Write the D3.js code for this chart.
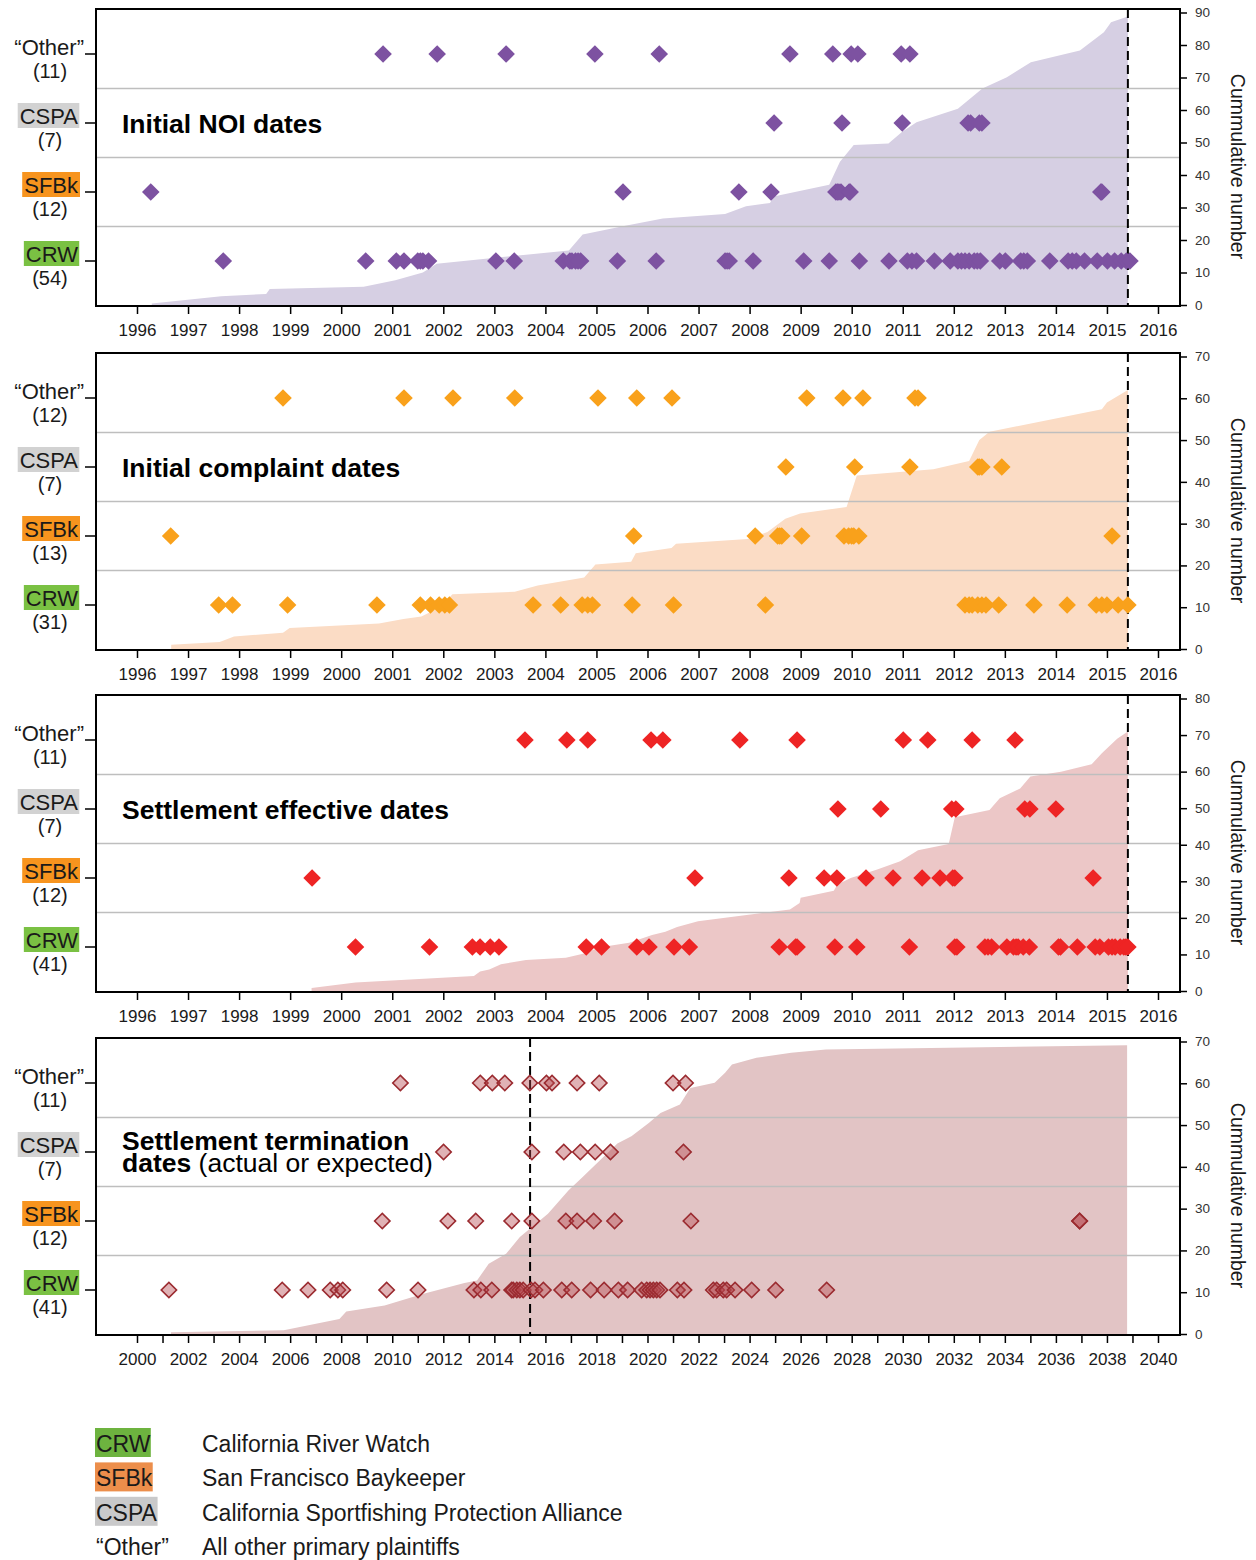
<!DOCTYPE html>
<html>
<head>
<meta charset="utf-8">
<script src="https://cdn.jsdelivr.net/npm/d3@7"></script>
<style>
  body { margin: 0; background: #fff; }
  svg { font-family: "Liberation Sans", Arial, sans-serif; }
</style>
</head>
<body>
<svg id="chart"></svg>
<script>
const width = 1256;
const height = 1560;
const plotLeft = 96;
const plotRight = 1180;
const panelTops = [9, 353, 695, 1038];
const panelH = 297;

// categories, top row first
const groups = ['Other', 'CSPA', 'SFBk', 'CRW'];
const groupLabels = ['\u201cOther\u201d', 'CSPA', 'SFBk', 'CRW'];
const groupBoxes = [null, '#D2D2D2', '#F7941E', '#7AC143'];

// tick labels
const yearsA = [1996, 1997, 1998, 1999, 2000, 2001, 2002, 2003, 2004, 2005, 2006,
                2007, 2008, 2009, 2010, 2011, 2012, 2013, 2014, 2015, 2016];
const yearsB = d3.range(2000, 2041);

// Initial NOI dates (decimal years)
const noiOther = [2000.82, 2001.88, 2003.23, 2004.97, 2006.23, 2008.79, 2009.63, 2009.99, 2010.12, 2010.97, 2011.14];
const noiCSPA = [2008.48, 2009.81, 2010.99, 2012.28, 2012.33, 2012.50, 2012.55];
const noiSFBk = [1996.27, 2005.52, 2007.79, 2008.42, 2009.69, 2009.72, 2009.75, 2009.79, 2009.95, 2009.97, 2014.88, 2014.90];
const noiCRW = [1997.69, 2000.48, 2001.08, 2001.23, 2001.50, 2001.55, 2001.60, 2001.71, 2003.03, 2003.39,
                2004.35, 2004.48, 2004.52, 2004.59, 2004.64, 2004.69, 2005.41, 2006.17, 2007.52, 2007.56,
                2007.60, 2008.07, 2009.06, 2009.56, 2010.15, 2010.73, 2011.09, 2011.18, 2011.27, 2011.62,
                2011.93, 2012.08, 2012.15, 2012.22, 2012.30, 2012.40, 2012.46, 2012.52, 2012.90, 2013.01,
                2013.31, 2013.37, 2013.44, 2013.88, 2014.24, 2014.32, 2014.40, 2014.56, 2014.81, 2015.01,
                2015.15, 2015.28, 2015.38, 2015.45];
const noiTotal = [[1996.29, 0.5], [1997.65, 2.7], [1998.53, 3.4], [1998.6, 4.9], [2000.44, 5.6], [2001.06, 7.6],
                  [2001.6, 10], [2001.87, 12.7], [2004.46, 16.8], [2004.73, 21.7], [2005.54, 24.3], [2006.3, 26.6],
                  [2007.52, 28], [2007.93, 30.4], [2008.4, 31.4], [2008.47, 33.4], [2009.56, 37], [2009.77, 44.1],
                  [2010.04, 49.2], [2010.72, 49.7], [2010.99, 53.3], [2011.27, 56.2], [2012.08, 60.4], [2012.56, 66.6],
                  [2013.04, 70.1], [2013.51, 74.7], [2014.47, 78.3], [2014.94, 83.9], [2015.08, 87], [2015.41, 88.8]];

// Initial complaint dates
const complaintOther = [1998.86, 2001.23, 2002.19, 2003.40, 2005.03, 2005.79, 2006.48, 2009.12, 2009.83, 2010.22, 2011.24, 2011.30];
const complaintCSPA = [2008.71, 2010.06, 2011.14, 2012.47, 2012.50, 2012.55, 2012.94];
const complaintSFBk = [1996.66, 2005.73, 2008.11, 2008.55, 2008.59, 2008.63, 2009.02, 2009.85, 2009.94, 2010.00, 2010.04, 2010.14, 2015.10];
const complaintCRW = [1997.60, 1997.87, 1998.95, 2000.70, 2001.55, 2001.75, 2001.92, 2002.03, 2002.12, 2003.76,
                      2004.30, 2004.72, 2004.83, 2004.92, 2005.70, 2006.51, 2008.31, 2012.22, 2012.30, 2012.36,
                      2012.47, 2012.55, 2012.63, 2012.88, 2013.57, 2014.22, 2014.79, 2014.90, 2015.00, 2015.22, 2015.41];
const complaintTotal = [[1996.67, 1], [1997.62, 1.7], [1997.9, 3], [1998.86, 3.9], [1998.99, 5], [2000.74, 6.1],
                        [2001.22, 7.2], [2001.57, 7.8], [2001.92, 9.9], [2002.18, 13.1], [2003.4, 13.7], [2003.85, 15.2],
                        [2004.76, 17.1], [2004.98, 20.2], [2005.68, 20.9], [2005.77, 22.9], [2006.47, 24.2], [2006.56, 25.2],
                        [2007.96, 26.3], [2008.35, 28], [2008.7, 31.2], [2008.99, 32.4], [2009.9, 34], [2010.1, 41.5],
                        [2011.6, 43], [2012.3, 45], [2012.5, 50], [2012.7, 52], [2014.9, 57.4], [2015.0, 59], [2015.41, 62]];

// Settlement effective dates
const effectiveOther = [2003.60, 2004.42, 2004.83, 2006.07, 2006.30, 2007.81, 2008.93, 2011.01, 2011.49, 2012.36, 2013.20];
const effectiveCSPA = [2009.73, 2010.57, 2011.96, 2012.04, 2013.39, 2013.49, 2014.00];
const effectiveSFBk = [1999.43, 2006.93, 2008.77, 2009.46, 2009.71, 2010.28, 2010.81, 2011.38, 2011.73, 2011.98, 2012.02, 2014.73];
const effectiveCRW = [2000.28, 2001.73, 2002.57, 2002.72, 2002.92, 2003.09, 2004.80, 2005.10, 2005.79, 2006.03,
                      2006.52, 2006.82, 2008.58, 2008.90, 2008.93, 2009.67, 2010.10, 2011.13, 2012.02, 2012.06,
                      2012.61, 2012.67, 2012.74, 2013.04, 2013.17, 2013.22, 2013.26, 2013.36, 2013.48, 2014.05,
                      2014.09, 2014.42, 2014.77, 2014.86, 2015.03, 2015.10, 2015.16, 2015.26, 2015.33, 2015.37, 2015.41];
const effectiveTotal = [[1999.42, 0.8], [2000.28, 2.3], [2002.6, 4.1], [2002.72, 5.3], [2002.9, 5.9], [2003.13, 7.3],
                        [2003.62, 8.5], [2004.4, 9.1], [2004.78, 10.3], [2005.04, 11.9], [2005.64, 13.2], [2006.09, 15.3],
                        [2006.35, 16.2], [2006.58, 17.5], [2006.99, 19.1], [2008.79, 22.3], [2008.98, 24.1], [2009.0, 25.5],
                        [2009.65, 27.4], [2009.72, 29.1], [2009.98, 30.9], [2010.5, 33.2], [2010.95, 35.5], [2011.3, 38.5],
                        [2011.9, 40.2], [2012.02, 47.5], [2012.7, 49.5], [2012.9, 52.7], [2013.3, 55.4], [2013.5, 58.7],
                        [2014.1, 60], [2014.7, 62], [2014.9, 65], [2015.2, 69], [2015.41, 71]];

// Settlement termination dates (actual or expected)
const terminationOther = [2010.32, 2013.45, 2013.92, 2014.41, 2015.39, 2016.04, 2016.26, 2017.24, 2018.11, 2021.00, 2021.49];
const terminationCSPA = [2012.01, 2015.47, 2016.72, 2017.37, 2017.95, 2018.55, 2021.41];
const terminationSFBk = [2009.61, 2012.18, 2013.27, 2014.68, 2015.47, 2016.80, 2017.24, 2017.89, 2018.71, 2021.70, 2036.93, 2036.93];
const terminationCRW = [2001.25, 2005.69, 2006.70, 2007.57, 2007.87, 2008.06, 2009.78, 2011.01, 2013.20, 2013.47,
                        2013.90, 2014.68, 2014.74, 2014.88, 2015.00, 2015.13, 2015.44, 2015.59, 2015.92, 2016.64,
                        2017.03, 2017.77, 2018.30, 2018.86, 2019.22, 2019.77, 2019.97, 2020.10, 2020.23, 2020.36,
                        2020.49, 2021.17, 2021.43, 2022.58, 2022.71, 2022.97, 2023.10, 2023.43, 2024.08, 2025.02, 2027.02];
const terminationTotal = [[2001.33, 0.4], [2005.75, 0.9], [2007.93, 3.6], [2008.2, 5.4], [2009.7, 6.8], [2011.19, 9.6],
                          [2012.83, 12.2], [2013.32, 12.8], [2013.78, 16.8], [2014.46, 19.2], [2015.0, 23.2], [2016.1, 28.8],
                          [2016.91, 34.4], [2017.46, 37.6], [2018.82, 45.6], [2019.37, 47.3], [2020.05, 50.5], [2020.51, 52.9],
                          [2021.27, 54.9], [2021.68, 58.9], [2022.63, 60.1], [2023.04, 62.5], [2023.31, 64.5], [2024.27, 66.1],
                          [2025.63, 67.3], [2026.99, 68.1], [2038.79, 69.1]];

const legendCodes = ['CRW', 'SFBk', 'CSPA', '\u201cOther\u201d'];
const legendNames = ['California River Watch', 'San Francisco Baykeeper',
                     'California Sportfishing Protection Alliance', 'All other primary plaintiffs'];
const legendBoxes = ['#6DB33F', '#EC8E4B', '#C9C9CA', null];

const panels = [
  { title: [['Initial NOI dates', 'bold']],
    data: { Other: noiOther, CSPA: noiCSPA, SFBk: noiSFBk, CRW: noiCRW },
    total: noiTotal, yMax: 90, dash: 2015.41,
    xDomain: [1995.197, 2016.431], ticks: yearsA, fmt: d => d,
    marker: '#7D52A1', area: '#D6CFE3', hollow: false },
  { title: [['Initial complaint dates', 'bold']],
    data: { Other: complaintOther, CSPA: complaintCSPA, SFBk: complaintSFBk, CRW: complaintCRW },
    total: complaintTotal, yMax: 70, dash: 2015.41,
    xDomain: [1995.197, 2016.431], ticks: yearsA, fmt: d => d,
    marker: '#F9A11B', area: '#FBDCC5', hollow: false },
  { title: [['Settlement effective dates', 'bold']],
    data: { Other: effectiveOther, CSPA: effectiveCSPA, SFBk: effectiveSFBk, CRW: effectiveCRW },
    total: effectiveTotal, yMax: 80, dash: 2015.41,
    xDomain: [1995.197, 2016.431], ticks: yearsA, fmt: d => d,
    marker: '#EE2424', area: '#ECC7C7', hollow: false },
  { title: [['Settlement termination', 'bold'], ['dates', 'bold', ' (actual or expected)']],
    data: { Other: terminationOther, CSPA: terminationCSPA, SFBk: terminationSFBk, CRW: terminationCRW },
    total: terminationTotal, yMax: 70, dash: 2015.40,
    xDomain: [1998.394, 2040.862], ticks: yearsB, fmt: d => d % 2 === 0 ? d : '',
    marker: '#9B2B30', area: '#E2C4C5', hollow: true }
];

const svg = d3.select('#chart')
            .attr('width', width)
            .attr('height', height);

panels.forEach((p, i) => {
    const top = panelTops[i];
    const bottom = top + panelH;
    const x = d3.scaleLinear().domain(p.xDomain).range([plotLeft, plotRight]);
    const yRow = d3.scalePoint().domain(groups).range([top + 45, top + 252]);
    const yCum = d3.scaleLinear().domain([0, p.yMax]).range([bottom - 1, top + 3.5]);
    const g = svg.append('g');

    // cumulative area
    g.append('path')
        .datum(p.total)
        .attr('fill', p.area)
        .attr('d', d3.area().x(d => x(d[0])).y0(bottom).y1(d => yCum(d[1])));

    // row separators
    d3.pairs(groups).forEach(([a, b]) => {
        const yy = (yRow(a) + yRow(b)) / 2;
        g.append('line')
            .attr('x1', plotLeft).attr('x2', plotRight)
            .attr('y1', yy).attr('y2', yy)
            .attr('stroke', '#BEBEBE').attr('stroke-width', 1.6);
    });

    // present-day dashed line
    g.append('line')
        .attr('x1', x(p.dash)).attr('x2', x(p.dash))
        .attr('y1', top).attr('y2', bottom)
        .attr('stroke', '#000').attr('stroke-width', 2)
        .attr('stroke-dasharray', '9,5');

    // markers
    groups.forEach(grp => {
        g.selectAll(null).data(p.data[grp]).enter().append('path')
            .attr('d', d3.symbol(d3.symbolSquare, p.hollow ? 118 : 155)())
            .attr('transform', d => `translate(${x(d)},${yRow(grp)}) rotate(45)`)
            .attr('fill', p.hollow ? '#B5484E' : p.marker)
            .attr('fill-opacity', p.hollow ? 0.42 : 1)
            .attr('stroke', p.hollow ? p.marker : 'none')
            .attr('stroke-width', 1.6);
    });

    // frame
    g.append('rect')
        .attr('x', plotLeft).attr('y', top)
        .attr('width', plotRight - plotLeft).attr('height', panelH)
        .attr('fill', 'none').attr('stroke', '#000').attr('stroke-width', 2);

    // title
    const ty = yRow('CSPA') + (p.title.length > 1 ? -2 : 10);
    p.title.forEach((line, k) => {
        const t = g.append('text')
            .attr('x', 122).attr('y', ty + k * 22)
            .attr('font-size', 26.5).attr('fill', '#000');
        t.append('tspan').attr('font-weight', line[1]).text(line[0]);
        if (line[2]) t.append('tspan').attr('font-weight', 'normal').text(line[2]);
    });

    // left category labels
    groups.forEach((grp, k) => {
        const yy = yRow(grp);
        g.append('line')
            .attr('x1', 85).attr('x2', plotLeft)
            .attr('y1', yy).attr('y2', yy)
            .attr('stroke', '#000').attr('stroke-width', 1.5);
        const lab = g.append('text')
            .attr('x', groupBoxes[k] ? 78 : 84).attr('y', yy + 1)
            .attr('text-anchor', 'end')
            .attr('font-size', 22).attr('fill', '#1a1a1a')
            .text(groupLabels[k]);
        if (groupBoxes[k]) {
            const bb = lab.node().getBBox();
            g.insert('rect', () => lab.node())
                .attr('x', bb.x - 2).attr('y', yy - 20)
                .attr('width', bb.width + 3).attr('height', 25)
                .attr('fill', groupBoxes[k]);
        }
        g.append('text')
            .attr('x', 50).attr('y', yy + 24)
            .attr('text-anchor', 'middle')
            .attr('font-size', 20).attr('fill', '#1a1a1a')
            .text(`(${p.data[grp].length})`);
    });

    // bottom axis
    const xAxis = g.append('g')
        .attr('transform', `translate(0,${bottom})`)
        .call(d3.axisBottom(x).tickValues(p.ticks).tickFormat(p.fmt).tickSize(8).tickPadding(10));
    xAxis.select('.domain').remove();
    xAxis.selectAll('line').attr('stroke', '#000').attr('stroke-width', 1.5);
    xAxis.selectAll('text').attr('font-size', 17).attr('fill', '#1a1a1a').attr('font-family', null);

    // right cumulative axis
    const yAxis = g.append('g')
        .attr('transform', `translate(${plotRight - 1},0)`)
        .call(d3.axisRight(yCum).tickValues(d3.range(0, p.yMax + 1, 10)).tickSize(8).tickPadding(8));
    yAxis.select('.domain').remove();
    yAxis.selectAll('line').attr('stroke', '#000').attr('stroke-width', 1.5);
    yAxis.selectAll('text').attr('font-size', 13.5).attr('fill', '#333').attr('font-family', null);

    g.append('text')
        .attr('transform', `translate(1231,${top + panelH / 2 + 9}) rotate(90)`)
        .attr('text-anchor', 'middle')
        .attr('font-size', 19.5).attr('fill', '#1a1a1a')
        .text('Cummulative number');
});

// legend
legendCodes.forEach((code, k) => {
    const yy = 1452 + k * 34.4;
    const t = svg.append('text')
        .attr('x', 96).attr('y', yy)
        .attr('font-size', 23).attr('fill', '#1a1a1a')
        .text(code);
    if (legendBoxes[k]) {
        const bb = t.node().getBBox();
        svg.insert('rect', () => t.node())
            .attr('x', 95).attr('y', yy - 24)
            .attr('width', bb.width + 1).attr('height', 29)
            .attr('fill', legendBoxes[k]);
    }
    svg.append('text')
        .attr('x', 202).attr('y', yy)
        .attr('font-size', 23).attr('fill', '#1a1a1a')
        .text(legendNames[k]);
});
</script>
</body>
</html>
